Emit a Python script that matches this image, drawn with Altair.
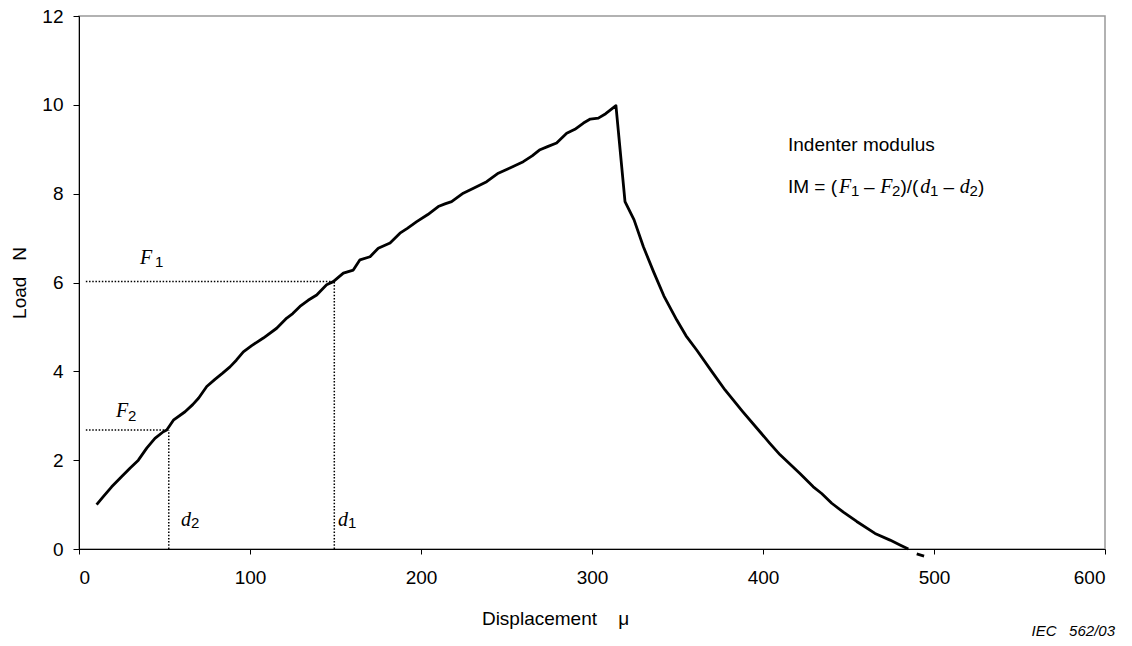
import altair as alt
import pandas as pd

# ---- data ----
load_x = [10.3, 14.2, 19.1, 25, 29.8, 34.7, 39.6, 44.4, 49.3, 51.3, 55.2, 62, 66.5, 70, 74.7,
          79.5, 84, 88.3, 92, 96.1, 101, 107.8, 115.6, 121.5, 125, 129.2, 134, 139, 144.8, 148.7,
          154.6, 160.4, 164.3, 170.2, 175, 181.9, 187.7, 192, 197.5, 204, 210.1, 214, 217.9, 224.7,
          231, 238.4, 245.2, 252, 259.8, 265, 269.6, 274, 279.3, 285.2, 290, 295, 299, 303.7, 308, 314,
          319.3, 324.6, 330, 335.9, 342, 349.5, 355, 361.2, 370, 377.8, 388, 398.2, 404, 410,
          421.6, 429.4, 434.3, 440.2, 447, 454.8, 465.5, 474.3, 480.1, 485]
load_y = [1.0, 1.18, 1.40, 1.63, 1.82, 2.0, 2.27, 2.49, 2.64, 2.68, 2.9, 3.09, 3.25, 3.4, 3.66,
          3.82, 3.96, 4.1, 4.25, 4.44, 4.58, 4.75, 4.97, 5.2, 5.3, 5.46, 5.6, 5.72, 5.95, 6.02,
          6.21, 6.28, 6.51, 6.58, 6.77, 6.89, 7.11, 7.22, 7.37, 7.53, 7.71, 7.77, 7.82, 8.01,
          8.13, 8.27, 8.46, 8.58, 8.72, 8.85, 8.99, 9.06, 9.14, 9.36, 9.45, 9.59, 9.68, 9.70, 9.8, 9.98,
          7.82, 7.41, 6.81, 6.25, 5.7, 5.16, 4.8, 4.48, 4.0, 3.58, 3.1, 2.64, 2.38, 2.12,
          1.70, 1.40, 1.25, 1.03, 0.83, 0.62, 0.35, 0.20, 0.09, 0.0]
tail_x = [489.9, 494.2]
tail_y = [-0.11, -0.16]

d1, F1 = 149.3, 6.02
d2, F2 = 52.5, 2.68

x_ticks = [0, 100, 200, 300, 400, 500, 600]
y_ticks = [0, 2, 4, 6, 8, 10, 12]

SANS = "Liberation Sans"
SERIF = "Liberation Serif"
NB = "\u00a0"

xs = alt.Scale(domain=[0, 600], nice=False, zero=False)
ys = alt.Scale(domain=[0, 12], nice=False, zero=False)

x_axis = alt.Axis(values=x_ticks, grid=False, tickSize=5, tickColor="black", domainColor="black",
                  labelFont=SANS, labelFontSize=19, labelColor="black", labelPadding=14,
                  title="Displacement" + NB * 4 + "\u03bc", titleFont=SANS, titleFontSize=19,
                  titleFontWeight="normal", titleColor="black", titleX=476, titleY=69,
                  titleBaseline="middle", titleAlign="center")
y_axis = alt.Axis(values=y_ticks, grid=False, tickSize=6, tickColor="black", domainColor="black",
                  labelFont=SANS, labelFontSize=19, labelColor="black", labelPadding=10,
                  title="Load" + NB * 3 + "N", titleFont=SANS, titleFontSize=19, titleFontWeight="normal",
                  titleColor="black", titleX=-60, titleY=266.5, titleAngle=270,
                  titleAlign="center", titleBaseline="middle")


def X(field="x"):
    return alt.X(f"{field}:Q", scale=xs, axis=x_axis)


def Y(field="y"):
    return alt.Y(f"{field}:Q", scale=ys, axis=y_axis)


curve = pd.DataFrame({"x": load_x, "y": load_y})
tail = pd.DataFrame({"x": tail_x, "y": tail_y})

guides = pd.DataFrame({
    "x": [4, d1, 4, d2],
    "x2": [d1, d1, d2, d2],
    "y": [F1, 0, F2, 0],
    "y2": [F1, F1, F2, F2],
})

line = alt.Chart(curve).mark_line(color="black", strokeWidth=2.8, strokeJoin="round").encode(x=X(), y=Y())
tail_line = alt.Chart(tail).mark_line(color="black", strokeWidth=2.8).encode(x=X(), y=Y())

rules = alt.Chart(guides).mark_rule(color="black", strokeWidth=1.5, strokeDash=[1.5, 1.7]).encode(
    x=X(), x2="x2:Q", y=Y(), y2="y2:Q")

# italic serif letters
letters = pd.DataFrame({
    "x": [35.7, 21.6, 59.6, 151.5, 444.5, 468.5, 491.9, 515.0],
    "y": [6.42, 2.97, 0.52, 0.52, 8.02, 8.02, 8.02, 8.02],
    "t": ["F", "F", "d", "d", "F", "F", "d", "d"],
})
subs = pd.DataFrame({
    "x": [44.4, 28.7, 65.5, 157.3, 451.5, 475.5, 497.7, 520.8],
    "y": [6.35, 2.88, 0.47, 0.47, 7.95, 7.95, 7.95, 7.95],
    "t": ["1", "2", "2", "1", "1", "2", "1", "2"],
})
plain = pd.DataFrame({
    "x": [414.6, 414.6, 459.1, 480.4, 505.6, 525.8],
    "y": [8.96, 8.02, 8.02, 8.02, 8.02, 8.02],
    "t": ["Indenter modulus", "IM" + NB + "=" + NB + "(", "\u2013", ")/(", "\u2013", ")"],
})

letters_l = alt.Chart(letters).mark_text(font=SERIF, fontStyle="italic", fontSize=20, align="left",
                                         baseline="alphabetic", color="black").encode(x=X(), y=Y(), text="t:N")
subs_l = alt.Chart(subs).mark_text(font=SANS, fontSize=15, align="left",
                                   baseline="alphabetic", color="black").encode(x=X(), y=Y(), text="t:N")
plain_l = alt.Chart(plain).mark_text(font=SANS, fontSize=19, align="left",
                                     baseline="alphabetic", color="black").encode(x=X(), y=Y(), text="t:N")

iec = alt.Chart(pd.DataFrame({"t": ["IEC" + NB * 3 + "562/03"]})).mark_text(
    font=SANS, fontStyle="italic", fontSize=15, align="right", baseline="alphabetic", color="black"
).encode(x=alt.value(1036), y=alt.value(620), text="t:N")

chart = alt.layer(rules, line, tail_line, letters_l, subs_l, plain_l, iec).properties(
    width=1026, height=533,
    padding={"left": 79, "top": 16, "right": 27, "bottom": 97},
    autosize=alt.AutoSizeParams(type="none"),
    background="white",
).configure_view(stroke="#999999", strokeWidth=1.5)

chart.save("out.html", embed_options={"renderer": "svg", "actions": False})
